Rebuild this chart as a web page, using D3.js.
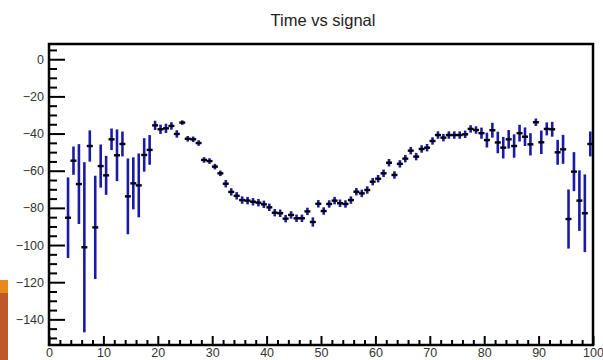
<!DOCTYPE html>
<html>
<head>
<meta charset="utf-8">
<script src="https://cdn.jsdelivr.net/npm/d3@7"></script>
<style>
  html, body { margin: 0; padding: 0; background: #fff; }
  svg { display: block; }
</style>
</head>
<body>
<svg id="chart" width="603" height="360"></svg>
<script>
const title = "Time vs signal";
const xValues = [3.5,4.5,5.5,6.5,7.5,8.5,9.5,10.5,11.5,12.5,13.5,14.5,15.5,16.5,17.5,18.5,19.5,20.5,21.5,22.5,23.5,24.5,25.5,26.5,27.5,28.5,29.5,30.5,31.5,32.5,33.5,34.5,35.5,36.5,37.5,38.5,39.5,40.5,41.5,42.5,43.5,44.5,45.5,46.5,47.5,48.5,49.5,50.5,51.5,52.5,53.5,54.5,55.5,56.5,57.5,58.5,59.5,60.5,61.5,62.5,63.5,64.5,65.5,66.5,67.5,68.5,69.5,70.5,71.5,72.5,73.5,74.5,75.5,76.5,77.5,78.5,79.5,80.5,81.5,82.5,83.5,84.5,85.5,86.5,87.5,88.5,89.5,90.5,91.5,92.5,93.5,94.5,95.5,96.5,97.5,98.5,99.5];
const yValues = [-85.3,-54.6,-67.2,-101.2,-46.7,-90.5,-57.5,-62.5,-43.1,-51.7,-45.6,-73.8,-66.8,-67.9,-51.5,-48.8,-35.6,-37.7,-37.2,-35.9,-40.2,-34.1,-42.8,-43.1,-45.1,-54.2,-54.8,-57.8,-61.4,-67.0,-71.4,-73.5,-75.8,-76.1,-76.7,-77.2,-78.1,-79.7,-82.6,-82.9,-85.8,-83.8,-85.6,-85.6,-81.9,-87.6,-77.8,-81.7,-77.9,-76.1,-77.5,-77.9,-75.8,-71.3,-72.2,-70.4,-65.9,-64.3,-61.4,-55.7,-62.3,-56.3,-53.5,-49.2,-52.4,-48.3,-47.6,-44.0,-40.8,-42.2,-40.8,-40.8,-40.8,-40.4,-37.5,-38.1,-39.8,-43.5,-38.2,-44.8,-47.6,-43.1,-46.7,-39.8,-41.7,-45.8,-33.9,-44.7,-37.5,-37.7,-50.1,-48.5,-86.0,-60.5,-76.1,-82.9,-45.6];
const yErrors = [21.7,7.6,21.5,45.8,8.4,27.8,11.6,10.5,5.8,13.9,6.7,20.4,14.0,17.2,9.0,8.0,2.5,2.5,2.5,2.0,2.0,1.2,1.5,1.5,1.5,1.5,1.5,1.5,1.5,2.0,2.0,2.0,2.0,2.0,2.0,2.0,2.0,2.0,2.0,2.0,2.0,2.0,2.0,2.0,2.0,2.5,2.0,2.0,2.0,2.0,2.0,2.0,2.0,2.0,2.0,2.0,2.0,2.0,2.0,2.0,2.0,2.0,2.0,2.0,2.0,2.0,2.0,2.0,2.0,2.0,2.0,2.0,2.0,2.0,2.0,2.0,3.0,4.0,4.0,5.8,5.8,5.0,6.3,4.5,5.0,6.0,2.0,6.3,3.5,4.0,6.7,7.8,15.9,10.5,16.3,20.9,6.7];
const xMajorTicks = [0,10,20,30,40,50,60,70,80,90,100];
const yMajorTicks = [0,-20,-40,-60,-80,-100,-120,-140];

const svg = d3.select("#chart");
const mLeft = 49, mRight = 593, mTop = 44, mBottom = 345;
const x = d3.scaleLinear().domain([0, 100]).range([mLeft, mRight]);
const y = d3.scaleLinear().domain([-153.8, 8.2]).range([mBottom, mTop]);

// decorative corner block
svg.append("rect").attr("x", 0).attr("y", 280).attr("width", 8).attr("height", 13).attr("fill", "#e8891c");
svg.append("rect").attr("x", 0).attr("y", 293).attr("width", 8).attr("height", 67).attr("fill", "#c0572b");

// title
svg.append("text").attr("x", 323).attr("y", 26).attr("text-anchor", "middle")
  .attr("font-family", "Liberation Sans, Arial, sans-serif").attr("font-size", 16.5)
  .attr("fill", "#222").text(title);

const fmt = d => d < 0 ? "\u2212" + Math.abs(d) : String(d);

// minor ticks
const xMinor = d3.range(0, 101, 2).filter(v => v % 10 !== 0);
const yMinor = d3.range(5, -155, -5).filter(v => v % 20 !== 0);

const gxMinor = svg.append("g").attr("transform", `translate(0,${mBottom})`)
  .call(d3.axisBottom(x).tickValues(xMinor).tickSize(-5).tickFormat(""));
const gyMinor = svg.append("g").attr("transform", `translate(${mLeft},0)`)
  .call(d3.axisLeft(y).tickValues(yMinor).tickSize(-8).tickFormat(""));

const gx = svg.append("g").attr("transform", `translate(0,${mBottom})`)
  .call(d3.axisBottom(x).tickValues(xMajorTicks).tickSize(-9).tickPadding(4).tickFormat(fmt));
const gy = svg.append("g").attr("transform", `translate(${mLeft},0)`)
  .call(d3.axisLeft(y).tickValues(yMajorTicks).tickSize(-16).tickPadding(5).tickFormat(fmt));

[gxMinor, gyMinor, gx, gy].forEach(g => {
  g.select(".domain").remove();
  g.selectAll(".tick line").attr("stroke", "#000").attr("stroke-width", 2);
  g.selectAll(".tick text").attr("font-family", "Liberation Sans, Arial, sans-serif")
    .attr("font-size", 12.5).attr("fill", "#333");
});
gx.selectAll(".tick text").attr("dy", "0.71em").attr("y", 3);

// frame
svg.append("rect").attr("x", mLeft).attr("y", mTop).attr("width", mRight - mLeft).attr("height", mBottom - mTop)
  .attr("fill", "none").attr("stroke", "#000").attr("stroke-width", 2.5);

// error bars
const pts = xValues.map((xv, i) => ({x: xv, y: yValues[i], e: yErrors[i]}));
svg.append("g").selectAll("line").data(pts).join("line")
  .attr("x1", d => x(d.x)).attr("x2", d => x(d.x))
  .attr("y1", d => y(d.y + d.e)).attr("y2", d => y(d.y - d.e))
  .attr("stroke", "#1a1aa6").attr("stroke-width", 2.6);
// markers
svg.append("g").selectAll("rect").data(pts).join("rect")
  .attr("x", d => x(d.x) - 3).attr("y", d => y(d.y) - 1.2)
  .attr("width", 6).attr("height", 2.4).attr("fill", "#000");
</script>
</body>
</html>
